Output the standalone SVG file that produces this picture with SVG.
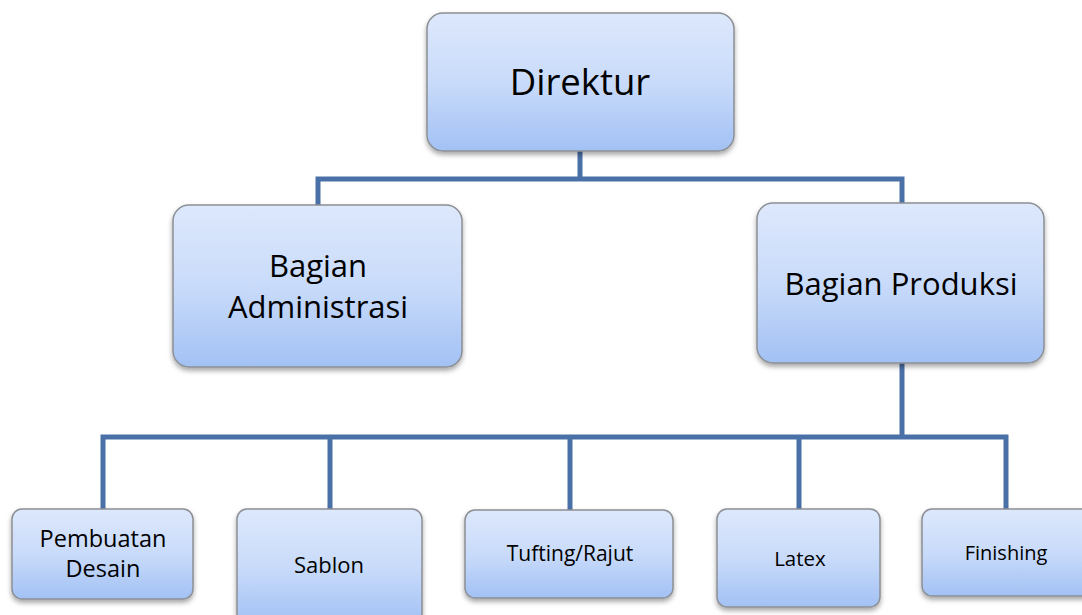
<svg xmlns="http://www.w3.org/2000/svg" width="1082" height="615" viewBox="0 0 1082 615">
<style>
.box{fill:url(#g);stroke:#8c8f94;stroke-width:1.5;filter:url(#sh)}
.t{font-family:"Open Sans","Liberation Sans",sans-serif;fill:#000;text-anchor:middle}
.c{fill:none;stroke:#4a71a7;stroke-width:5;stroke-linecap:square;stroke-linejoin:miter}
</style>
<defs>
<linearGradient id="g" x1="0" y1="0" x2="0" y2="1">
<stop offset="0" stop-color="#dde8fc"/>
<stop offset="0.5" stop-color="#c9dbfa"/>
<stop offset="1" stop-color="#a2c1f4"/>
</linearGradient>
<filter id="sh" x="-10%" y="-10%" width="120%" height="130%">
<feDropShadow dx="0" dy="3" stdDeviation="2.5" flood-color="#000" flood-opacity="0.35"/>
</filter>
</defs>
<rect width="1082" height="615" fill="#fff"/>
<g id="connectors">
<path class="c" d="M580 151V179M318 179H902M318 179V205M902 179V203"/>
<path class="c" d="M902 363V437M103 437H1006M103 437V509M330 437V509M570 437V509M799 437V509M1006 437V509"/>
</g>
<g id="direktur">
<rect class="box" x="427" y="13" width="307" height="138" rx="16"/>
<text class="t" x="580" y="95" font-size="36.5">Direktur</text>
</g>
<g id="bagian-administrasi">
<rect class="box" x="173" y="205" width="289" height="162" rx="16"/>
<text class="t" x="318" y="277" font-size="31">Bagian</text>
<text class="t" x="318" y="318" font-size="31">Administrasi</text>
</g>
<g id="bagian-produksi">
<rect class="box" x="757" y="203" width="287" height="160" rx="16"/>
<text class="t" x="901" y="295" font-size="31">Bagian Produksi</text>
</g>
<g id="pembuatan-desain">
<rect class="box" x="12" y="509" width="181" height="90" rx="10"/>
<text class="t" x="103" y="547" font-size="23.5">Pembuatan</text>
<text class="t" x="103" y="577" font-size="23.5">Desain</text>
</g>
<g id="sablon">
<rect class="box" x="237" y="509" width="185" height="115" rx="10"/>
<text class="t" x="329" y="573" font-size="22">Sablon</text>
</g>
<g id="tufting-rajut">
<rect class="box" x="465" y="510" width="208" height="88" rx="10"/>
<text class="t" x="570" y="561" font-size="21">Tufting/Rajut</text>
</g>
<g id="latex">
<rect class="box" x="717" y="509" width="163" height="98" rx="10"/>
<text class="t" x="800" y="566" font-size="20.5">Latex</text>
</g>
<g id="finishing">
<rect class="box" x="922" y="509" width="175" height="87" rx="10"/>
<text class="t" x="1006" y="560" font-size="20">Finishing</text>
</g>
</svg>
